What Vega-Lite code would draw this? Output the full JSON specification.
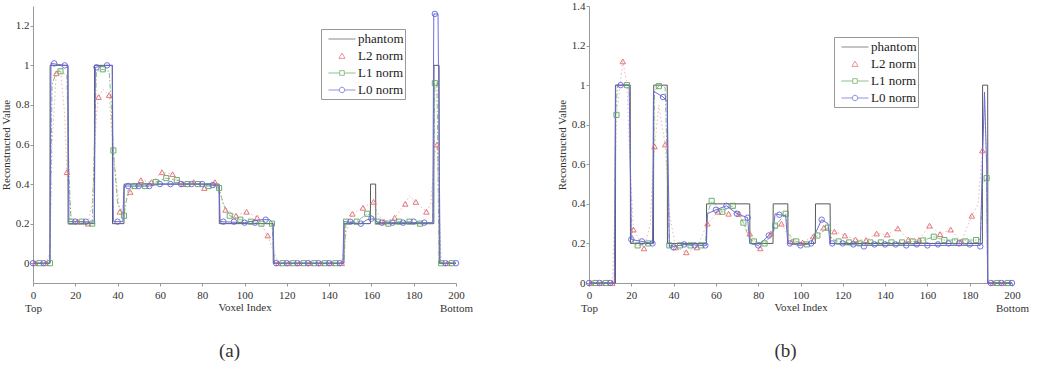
{
  "$schema": "https://vega.github.io/schema/vega-lite/v6.json",
  "padding": {"left": 0, "top": 0, "right": 5, "bottom": 5},
  "background": "white",
  "config": {
    "font": "Liberation Serif",
    "view": {"stroke": null},
    "axis": {
      "labelFont": "Liberation Serif", "titleFont": "Liberation Serif",
      "labelFontSize": 11, "titleFontSize": 11, "titleFontWeight": "normal",
      "labelColor": "#333", "titleColor": "#333",
      "domainColor": "#999", "tickColor": "#999", "grid": false,
      "tickSize": 3, "labelOverlap": false, "labelBound": false, "labelFlush": false
    },
    "legend": {
      "labelFont": "Liberation Serif", "labelFontSize": 13, "labelColor": "#222",
      "strokeColor": "#999", "fillColor": "white", "padding": 1.5,
      "symbolSize": 256, "rowPadding": 1, "labelOffset": 7.5, "symbolOffset": 11, "symbolStrokeWidth": 1
    },
    "title": {"font": "Liberation Serif", "fontSize": 19, "fontWeight": "normal", "color": "#333"}
  },
  "datasets": {
    "lines": [
      {"p":"a","s":"phantom","x":0,"y":0},{"p":"a","s":"phantom","x":8,"y":0},{"p":"a","s":"phantom","x":8.1,"y":1},{"p":"a","s":"phantom","x":16.5,"y":1},{"p":"a","s":"phantom","x":16.6,"y":0.2},{"p":"a","s":"phantom","x":29,"y":0.2},{"p":"a","s":"phantom","x":29.1,"y":1},{"p":"a","s":"phantom","x":37.5,"y":1},{"p":"a","s":"phantom","x":37.6,"y":0.2},{"p":"a","s":"phantom","x":43,"y":0.2},{"p":"a","s":"phantom","x":43.1,"y":0.4},{"p":"a","s":"phantom","x":88,"y":0.4},{"p":"a","s":"phantom","x":88.1,"y":0.2},{"p":"a","s":"phantom","x":113.5,"y":0.2},{"p":"a","s":"phantom","x":113.6,"y":0},{"p":"a","s":"phantom","x":147,"y":0},{"p":"a","s":"phantom","x":147.1,"y":0.2},{"p":"a","s":"phantom","x":159.5,"y":0.2},{"p":"a","s":"phantom","x":159.6,"y":0.4},{"p":"a","s":"phantom","x":162,"y":0.4},{"p":"a","s":"phantom","x":162.1,"y":0.2},{"p":"a","s":"phantom","x":189.5,"y":0.2},{"p":"a","s":"phantom","x":189.6,"y":1},{"p":"a","s":"phantom","x":192,"y":1},{"p":"a","s":"phantom","x":192.1,"y":0},{"p":"a","s":"phantom","x":200,"y":0},

      {"p":"a","s":"L2 norm","x":0,"y":0},{"p":"a","s":"L2 norm","x":1,"y":0},{"p":"a","s":"L2 norm","x":6,"y":0},{"p":"a","s":"L2 norm","x":8,"y":0.05},{"p":"a","s":"L2 norm","x":9,"y":0.6},{"p":"a","s":"L2 norm","x":11,"y":0.96},{"p":"a","s":"L2 norm","x":13,"y":0.98},{"p":"a","s":"L2 norm","x":15,"y":0.75},{"p":"a","s":"L2 norm","x":16,"y":0.46},{"p":"a","s":"L2 norm","x":18,"y":0.24},{"p":"a","s":"L2 norm","x":21,"y":0.21},{"p":"a","s":"L2 norm","x":26,"y":0.2},{"p":"a","s":"L2 norm","x":28,"y":0.3},{"p":"a","s":"L2 norm","x":30,"y":0.75},{"p":"a","s":"L2 norm","x":31,"y":0.84},{"p":"a","s":"L2 norm","x":33,"y":0.88},{"p":"a","s":"L2 norm","x":36,"y":0.85},{"p":"a","s":"L2 norm","x":38,"y":0.55},{"p":"a","s":"L2 norm","x":41,"y":0.26},{"p":"a","s":"L2 norm","x":43,"y":0.3},{"p":"a","s":"L2 norm","x":46,"y":0.36},{"p":"a","s":"L2 norm","x":51,"y":0.42},{"p":"a","s":"L2 norm","x":56,"y":0.41},{"p":"a","s":"L2 norm","x":61,"y":0.46},{"p":"a","s":"L2 norm","x":66,"y":0.45},{"p":"a","s":"L2 norm","x":71,"y":0.4},{"p":"a","s":"L2 norm","x":76,"y":0.41},{"p":"a","s":"L2 norm","x":81,"y":0.38},{"p":"a","s":"L2 norm","x":86,"y":0.41},{"p":"a","s":"L2 norm","x":88,"y":0.35},{"p":"a","s":"L2 norm","x":91,"y":0.27},{"p":"a","s":"L2 norm","x":96,"y":0.24},{"p":"a","s":"L2 norm","x":101,"y":0.26},{"p":"a","s":"L2 norm","x":106,"y":0.23},{"p":"a","s":"L2 norm","x":111,"y":0.14},{"p":"a","s":"L2 norm","x":113,"y":0.08},{"p":"a","s":"L2 norm","x":116,"y":0},{"p":"a","s":"L2 norm","x":146,"y":0},{"p":"a","s":"L2 norm","x":148,"y":0.15},{"p":"a","s":"L2 norm","x":151,"y":0.25},{"p":"a","s":"L2 norm","x":156,"y":0.28},{"p":"a","s":"L2 norm","x":161,"y":0.31},{"p":"a","s":"L2 norm","x":163,"y":0.25},{"p":"a","s":"L2 norm","x":166,"y":0.21},{"p":"a","s":"L2 norm","x":171,"y":0.23},{"p":"a","s":"L2 norm","x":176,"y":0.3},{"p":"a","s":"L2 norm","x":178,"y":0.34},{"p":"a","s":"L2 norm","x":181,"y":0.31},{"p":"a","s":"L2 norm","x":186,"y":0.26},{"p":"a","s":"L2 norm","x":188,"y":0.3},{"p":"a","s":"L2 norm","x":190,"y":0.55},{"p":"a","s":"L2 norm","x":191,"y":0.6},{"p":"a","s":"L2 norm","x":192,"y":0.3},{"p":"a","s":"L2 norm","x":193,"y":0},{"p":"a","s":"L2 norm","x":200,"y":0},

      {"p":"a","s":"L1 norm","x":0,"y":0},{"p":"a","s":"L1 norm","x":8,"y":0},{"p":"a","s":"L1 norm","x":9,"y":0.9},{"p":"a","s":"L1 norm","x":11,"y":0.97},{"p":"a","s":"L1 norm","x":13,"y":0.97},{"p":"a","s":"L1 norm","x":16,"y":0.95},{"p":"a","s":"L1 norm","x":17,"y":0.45},{"p":"a","s":"L1 norm","x":18,"y":0.21},{"p":"a","s":"L1 norm","x":23,"y":0.21},{"p":"a","s":"L1 norm","x":28,"y":0.2},{"p":"a","s":"L1 norm","x":29,"y":0.6},{"p":"a","s":"L1 norm","x":30,"y":0.97},{"p":"a","s":"L1 norm","x":33,"y":0.98},{"p":"a","s":"L1 norm","x":36,"y":0.97},{"p":"a","s":"L1 norm","x":37,"y":0.8},{"p":"a","s":"L1 norm","x":38,"y":0.57},{"p":"a","s":"L1 norm","x":40,"y":0.3},{"p":"a","s":"L1 norm","x":43,"y":0.24},{"p":"a","s":"L1 norm","x":45,"y":0.37},{"p":"a","s":"L1 norm","x":48,"y":0.39},{"p":"a","s":"L1 norm","x":53,"y":0.39},{"p":"a","s":"L1 norm","x":58,"y":0.41},{"p":"a","s":"L1 norm","x":63,"y":0.43},{"p":"a","s":"L1 norm","x":68,"y":0.42},{"p":"a","s":"L1 norm","x":73,"y":0.4},{"p":"a","s":"L1 norm","x":78,"y":0.4},{"p":"a","s":"L1 norm","x":83,"y":0.39},{"p":"a","s":"L1 norm","x":88,"y":0.38},{"p":"a","s":"L1 norm","x":90,"y":0.3},{"p":"a","s":"L1 norm","x":93,"y":0.24},{"p":"a","s":"L1 norm","x":98,"y":0.22},{"p":"a","s":"L1 norm","x":103,"y":0.21},{"p":"a","s":"L1 norm","x":108,"y":0.2},{"p":"a","s":"L1 norm","x":113,"y":0.2},{"p":"a","s":"L1 norm","x":114,"y":0},{"p":"a","s":"L1 norm","x":147,"y":0},{"p":"a","s":"L1 norm","x":148,"y":0.21},{"p":"a","s":"L1 norm","x":153,"y":0.21},{"p":"a","s":"L1 norm","x":158,"y":0.25},{"p":"a","s":"L1 norm","x":160,"y":0.24},{"p":"a","s":"L1 norm","x":163,"y":0.21},{"p":"a","s":"L1 norm","x":168,"y":0.2},{"p":"a","s":"L1 norm","x":173,"y":0.21},{"p":"a","s":"L1 norm","x":178,"y":0.21},{"p":"a","s":"L1 norm","x":183,"y":0.2},{"p":"a","s":"L1 norm","x":189,"y":0.2},{"p":"a","s":"L1 norm","x":190,"y":0.91},{"p":"a","s":"L1 norm","x":191,"y":0.91},{"p":"a","s":"L1 norm","x":192,"y":0},{"p":"a","s":"L1 norm","x":200,"y":0},

      {"p":"a","s":"L0 norm","x":0,"y":0},{"p":"a","s":"L0 norm","x":8,"y":0},{"p":"a","s":"L0 norm","x":8.5,"y":1.01},{"p":"a","s":"L0 norm","x":15,"y":1.0},{"p":"a","s":"L0 norm","x":16.5,"y":1.0},{"p":"a","s":"L0 norm","x":17,"y":0.21},{"p":"a","s":"L0 norm","x":25,"y":0.21},{"p":"a","s":"L0 norm","x":29,"y":0.2},{"p":"a","s":"L0 norm","x":29.5,"y":0.99},{"p":"a","s":"L0 norm","x":35,"y":1.0},{"p":"a","s":"L0 norm","x":37.5,"y":1.0},{"p":"a","s":"L0 norm","x":38,"y":0.21},{"p":"a","s":"L0 norm","x":42.5,"y":0.21},{"p":"a","s":"L0 norm","x":43,"y":0.39},{"p":"a","s":"L0 norm","x":55,"y":0.39},{"p":"a","s":"L0 norm","x":60,"y":0.4},{"p":"a","s":"L0 norm","x":80,"y":0.4},{"p":"a","s":"L0 norm","x":88,"y":0.39},{"p":"a","s":"L0 norm","x":88.5,"y":0.21},{"p":"a","s":"L0 norm","x":100,"y":0.205},{"p":"a","s":"L0 norm","x":108,"y":0.22},{"p":"a","s":"L0 norm","x":112,"y":0.22},{"p":"a","s":"L0 norm","x":113.5,"y":0.2},{"p":"a","s":"L0 norm","x":114,"y":0},{"p":"a","s":"L0 norm","x":146.5,"y":0},{"p":"a","s":"L0 norm","x":147,"y":0.21},{"p":"a","s":"L0 norm","x":155,"y":0.2},{"p":"a","s":"L0 norm","x":158,"y":0.22},{"p":"a","s":"L0 norm","x":161,"y":0.225},{"p":"a","s":"L0 norm","x":163,"y":0.205},{"p":"a","s":"L0 norm","x":189,"y":0.205},{"p":"a","s":"L0 norm","x":189.5,"y":1.26},{"p":"a","s":"L0 norm","x":191.5,"y":1.26},{"p":"a","s":"L0 norm","x":192.5,"y":0},{"p":"a","s":"L0 norm","x":200,"y":0},

      {"p":"b","s":"phantom","x":0,"y":0},{"p":"b","s":"phantom","x":12.5,"y":0},{"p":"b","s":"phantom","x":12.6,"y":1},{"p":"b","s":"phantom","x":19.5,"y":1},{"p":"b","s":"phantom","x":19.6,"y":0.2},{"p":"b","s":"phantom","x":30.5,"y":0.2},{"p":"b","s":"phantom","x":30.6,"y":1},{"p":"b","s":"phantom","x":37,"y":1},{"p":"b","s":"phantom","x":37.1,"y":0.2},{"p":"b","s":"phantom","x":55.5,"y":0.2},{"p":"b","s":"phantom","x":55.6,"y":0.4},{"p":"b","s":"phantom","x":76,"y":0.4},{"p":"b","s":"phantom","x":76.1,"y":0.2},{"p":"b","s":"phantom","x":87,"y":0.2},{"p":"b","s":"phantom","x":87.1,"y":0.4},{"p":"b","s":"phantom","x":94,"y":0.4},{"p":"b","s":"phantom","x":94.1,"y":0.2},{"p":"b","s":"phantom","x":107,"y":0.2},{"p":"b","s":"phantom","x":107.1,"y":0.4},{"p":"b","s":"phantom","x":114,"y":0.4},{"p":"b","s":"phantom","x":114.1,"y":0.2},{"p":"b","s":"phantom","x":186,"y":0.2},{"p":"b","s":"phantom","x":186.1,"y":1},{"p":"b","s":"phantom","x":188.5,"y":1},{"p":"b","s":"phantom","x":188.6,"y":0},{"p":"b","s":"phantom","x":200,"y":0},

      {"p":"b","s":"L2 norm","x":0,"y":0},{"p":"b","s":"L2 norm","x":1,"y":0},{"p":"b","s":"L2 norm","x":6,"y":0},{"p":"b","s":"L2 norm","x":11,"y":0},{"p":"b","s":"L2 norm","x":12,"y":0.3},{"p":"b","s":"L2 norm","x":13,"y":0.85},{"p":"b","s":"L2 norm","x":16,"y":1.12},{"p":"b","s":"L2 norm","x":18,"y":1.0},{"p":"b","s":"L2 norm","x":19,"y":0.7},{"p":"b","s":"L2 norm","x":21,"y":0.27},{"p":"b","s":"L2 norm","x":26,"y":0.175},{"p":"b","s":"L2 norm","x":29,"y":0.3},{"p":"b","s":"L2 norm","x":30,"y":0.55},{"p":"b","s":"L2 norm","x":31,"y":0.69},{"p":"b","s":"L2 norm","x":33,"y":0.9},{"p":"b","s":"L2 norm","x":36,"y":0.7},{"p":"b","s":"L2 norm","x":38,"y":0.35},{"p":"b","s":"L2 norm","x":41,"y":0.18},{"p":"b","s":"L2 norm","x":46,"y":0.155},{"p":"b","s":"L2 norm","x":51,"y":0.18},{"p":"b","s":"L2 norm","x":56,"y":0.3},{"p":"b","s":"L2 norm","x":61,"y":0.36},{"p":"b","s":"L2 norm","x":66,"y":0.35},{"p":"b","s":"L2 norm","x":71,"y":0.35},{"p":"b","s":"L2 norm","x":76,"y":0.25},{"p":"b","s":"L2 norm","x":81,"y":0.175},{"p":"b","s":"L2 norm","x":86,"y":0.25},{"p":"b","s":"L2 norm","x":91,"y":0.3},{"p":"b","s":"L2 norm","x":96,"y":0.21},{"p":"b","s":"L2 norm","x":101,"y":0.205},{"p":"b","s":"L2 norm","x":106,"y":0.235},{"p":"b","s":"L2 norm","x":111,"y":0.28},{"p":"b","s":"L2 norm","x":116,"y":0.26},{"p":"b","s":"L2 norm","x":121,"y":0.24},{"p":"b","s":"L2 norm","x":126,"y":0.22},{"p":"b","s":"L2 norm","x":131,"y":0.217},{"p":"b","s":"L2 norm","x":136,"y":0.25},{"p":"b","s":"L2 norm","x":141,"y":0.245},{"p":"b","s":"L2 norm","x":146,"y":0.276},{"p":"b","s":"L2 norm","x":151,"y":0.22},{"p":"b","s":"L2 norm","x":156,"y":0.217},{"p":"b","s":"L2 norm","x":161,"y":0.29},{"p":"b","s":"L2 norm","x":166,"y":0.247},{"p":"b","s":"L2 norm","x":171,"y":0.27},{"p":"b","s":"L2 norm","x":176,"y":0.21},{"p":"b","s":"L2 norm","x":181,"y":0.34},{"p":"b","s":"L2 norm","x":184,"y":0.4},{"p":"b","s":"L2 norm","x":186,"y":0.67},{"p":"b","s":"L2 norm","x":187,"y":0.9},{"p":"b","s":"L2 norm","x":188,"y":0.6},{"p":"b","s":"L2 norm","x":188.5,"y":0},{"p":"b","s":"L2 norm","x":200,"y":0},

      {"p":"b","s":"L1 norm","x":0,"y":0},{"p":"b","s":"L1 norm","x":12,"y":0},{"p":"b","s":"L1 norm","x":12.5,"y":0.85},{"p":"b","s":"L1 norm","x":13.5,"y":1.0},{"p":"b","s":"L1 norm","x":19,"y":1.0},{"p":"b","s":"L1 norm","x":20,"y":0.3},{"p":"b","s":"L1 norm","x":21,"y":0.2},{"p":"b","s":"L1 norm","x":23,"y":0.19},{"p":"b","s":"L1 norm","x":30,"y":0.2},{"p":"b","s":"L1 norm","x":31,"y":0.97},{"p":"b","s":"L1 norm","x":33,"y":0.995},{"p":"b","s":"L1 norm","x":36,"y":0.99},{"p":"b","s":"L1 norm","x":37,"y":0.6},{"p":"b","s":"L1 norm","x":38,"y":0.19},{"p":"b","s":"L1 norm","x":55,"y":0.19},{"p":"b","s":"L1 norm","x":56,"y":0.35},{"p":"b","s":"L1 norm","x":58,"y":0.415},{"p":"b","s":"L1 norm","x":63,"y":0.36},{"p":"b","s":"L1 norm","x":68,"y":0.39},{"p":"b","s":"L1 norm","x":73,"y":0.305},{"p":"b","s":"L1 norm","x":76,"y":0.22},{"p":"b","s":"L1 norm","x":78,"y":0.21},{"p":"b","s":"L1 norm","x":83,"y":0.2},{"p":"b","s":"L1 norm","x":87,"y":0.25},{"p":"b","s":"L1 norm","x":88,"y":0.29},{"p":"b","s":"L1 norm","x":93,"y":0.35},{"p":"b","s":"L1 norm","x":94,"y":0.25},{"p":"b","s":"L1 norm","x":98,"y":0.21},{"p":"b","s":"L1 norm","x":103,"y":0.195},{"p":"b","s":"L1 norm","x":108,"y":0.24},{"p":"b","s":"L1 norm","x":113,"y":0.28},{"p":"b","s":"L1 norm","x":115,"y":0.22},{"p":"b","s":"L1 norm","x":118,"y":0.21},{"p":"b","s":"L1 norm","x":123,"y":0.205},{"p":"b","s":"L1 norm","x":150,"y":0.205},{"p":"b","s":"L1 norm","x":158,"y":0.215},{"p":"b","s":"L1 norm","x":163,"y":0.234},{"p":"b","s":"L1 norm","x":168,"y":0.217},{"p":"b","s":"L1 norm","x":183,"y":0.217},{"p":"b","s":"L1 norm","x":185,"y":0.22},{"p":"b","s":"L1 norm","x":186,"y":0.5},{"p":"b","s":"L1 norm","x":188,"y":0.53},{"p":"b","s":"L1 norm","x":188.5,"y":0},{"p":"b","s":"L1 norm","x":200,"y":0},

      {"p":"b","s":"L0 norm","x":0,"y":0},{"p":"b","s":"L0 norm","x":12,"y":0},{"p":"b","s":"L0 norm","x":12.5,"y":1.0},{"p":"b","s":"L0 norm","x":19,"y":1.0},{"p":"b","s":"L0 norm","x":20,"y":0.22},{"p":"b","s":"L0 norm","x":25,"y":0.21},{"p":"b","s":"L0 norm","x":30,"y":0.2},{"p":"b","s":"L0 norm","x":30.5,"y":0.97},{"p":"b","s":"L0 norm","x":35,"y":0.94},{"p":"b","s":"L0 norm","x":37,"y":0.92},{"p":"b","s":"L0 norm","x":38,"y":0.18},{"p":"b","s":"L0 norm","x":45,"y":0.195},{"p":"b","s":"L0 norm","x":55.5,"y":0.19},{"p":"b","s":"L0 norm","x":56,"y":0.35},{"p":"b","s":"L0 norm","x":60,"y":0.37},{"p":"b","s":"L0 norm","x":65,"y":0.39},{"p":"b","s":"L0 norm","x":70,"y":0.35},{"p":"b","s":"L0 norm","x":75,"y":0.33},{"p":"b","s":"L0 norm","x":76,"y":0.2},{"p":"b","s":"L0 norm","x":80,"y":0.19},{"p":"b","s":"L0 norm","x":85,"y":0.24},{"p":"b","s":"L0 norm","x":87,"y":0.26},{"p":"b","s":"L0 norm","x":88,"y":0.35},{"p":"b","s":"L0 norm","x":90,"y":0.345},{"p":"b","s":"L0 norm","x":93,"y":0.34},{"p":"b","s":"L0 norm","x":94,"y":0.2},{"p":"b","s":"L0 norm","x":100,"y":0.19},{"p":"b","s":"L0 norm","x":105,"y":0.2},{"p":"b","s":"L0 norm","x":107,"y":0.25},{"p":"b","s":"L0 norm","x":110,"y":0.32},{"p":"b","s":"L0 norm","x":113,"y":0.3},{"p":"b","s":"L0 norm","x":114,"y":0.2},{"p":"b","s":"L0 norm","x":130,"y":0.19},{"p":"b","s":"L0 norm","x":150,"y":0.19},{"p":"b","s":"L0 norm","x":185,"y":0.19},{"p":"b","s":"L0 norm","x":186,"y":0.6},{"p":"b","s":"L0 norm","x":187,"y":0.965},{"p":"b","s":"L0 norm","x":188,"y":0.6},{"p":"b","s":"L0 norm","x":188.5,"y":0},{"p":"b","s":"L0 norm","x":200,"y":0}
    ],
    "marks": [
      {"p":"a","s":"L2 norm","x":1,"y":0},{"p":"a","s":"L2 norm","x":6,"y":0},{"p":"a","s":"L2 norm","x":11,"y":0.96},{"p":"a","s":"L2 norm","x":16,"y":0.46},{"p":"a","s":"L2 norm","x":21,"y":0.21},{"p":"a","s":"L2 norm","x":26,"y":0.2},{"p":"a","s":"L2 norm","x":31,"y":0.84},{"p":"a","s":"L2 norm","x":36,"y":0.85},{"p":"a","s":"L2 norm","x":41,"y":0.26},{"p":"a","s":"L2 norm","x":46,"y":0.36},{"p":"a","s":"L2 norm","x":51,"y":0.42},{"p":"a","s":"L2 norm","x":56,"y":0.41},{"p":"a","s":"L2 norm","x":61,"y":0.46},{"p":"a","s":"L2 norm","x":66,"y":0.45},{"p":"a","s":"L2 norm","x":71,"y":0.4},{"p":"a","s":"L2 norm","x":76,"y":0.41},{"p":"a","s":"L2 norm","x":81,"y":0.38},{"p":"a","s":"L2 norm","x":86,"y":0.41},{"p":"a","s":"L2 norm","x":91,"y":0.27},{"p":"a","s":"L2 norm","x":96,"y":0.24},{"p":"a","s":"L2 norm","x":101,"y":0.26},{"p":"a","s":"L2 norm","x":106,"y":0.23},{"p":"a","s":"L2 norm","x":111,"y":0.14},{"p":"a","s":"L2 norm","x":116,"y":0},{"p":"a","s":"L2 norm","x":121,"y":0},{"p":"a","s":"L2 norm","x":126,"y":0},{"p":"a","s":"L2 norm","x":131,"y":0},{"p":"a","s":"L2 norm","x":136,"y":0},{"p":"a","s":"L2 norm","x":141,"y":0},{"p":"a","s":"L2 norm","x":146,"y":0},{"p":"a","s":"L2 norm","x":151,"y":0.25},{"p":"a","s":"L2 norm","x":156,"y":0.28},{"p":"a","s":"L2 norm","x":161,"y":0.31},{"p":"a","s":"L2 norm","x":166,"y":0.21},{"p":"a","s":"L2 norm","x":171,"y":0.23},{"p":"a","s":"L2 norm","x":176,"y":0.3},{"p":"a","s":"L2 norm","x":181,"y":0.31},{"p":"a","s":"L2 norm","x":186,"y":0.26},{"p":"a","s":"L2 norm","x":191,"y":0.6},{"p":"a","s":"L2 norm","x":196,"y":0},

      {"p":"a","s":"L1 norm","x":3,"y":0},{"p":"a","s":"L1 norm","x":8,"y":0},{"p":"a","s":"L1 norm","x":13,"y":0.97},{"p":"a","s":"L1 norm","x":18,"y":0.21},{"p":"a","s":"L1 norm","x":23,"y":0.21},{"p":"a","s":"L1 norm","x":28,"y":0.2},{"p":"a","s":"L1 norm","x":33,"y":0.98},{"p":"a","s":"L1 norm","x":38,"y":0.57},{"p":"a","s":"L1 norm","x":43,"y":0.24},{"p":"a","s":"L1 norm","x":48,"y":0.39},{"p":"a","s":"L1 norm","x":53,"y":0.39},{"p":"a","s":"L1 norm","x":58,"y":0.41},{"p":"a","s":"L1 norm","x":63,"y":0.43},{"p":"a","s":"L1 norm","x":68,"y":0.42},{"p":"a","s":"L1 norm","x":73,"y":0.4},{"p":"a","s":"L1 norm","x":78,"y":0.4},{"p":"a","s":"L1 norm","x":83,"y":0.39},{"p":"a","s":"L1 norm","x":88,"y":0.38},{"p":"a","s":"L1 norm","x":93,"y":0.24},{"p":"a","s":"L1 norm","x":98,"y":0.22},{"p":"a","s":"L1 norm","x":103,"y":0.21},{"p":"a","s":"L1 norm","x":108,"y":0.2},{"p":"a","s":"L1 norm","x":113,"y":0.2},{"p":"a","s":"L1 norm","x":118,"y":0},{"p":"a","s":"L1 norm","x":123,"y":0},{"p":"a","s":"L1 norm","x":128,"y":0},{"p":"a","s":"L1 norm","x":133,"y":0},{"p":"a","s":"L1 norm","x":138,"y":0},{"p":"a","s":"L1 norm","x":143,"y":0},{"p":"a","s":"L1 norm","x":148,"y":0.21},{"p":"a","s":"L1 norm","x":153,"y":0.21},{"p":"a","s":"L1 norm","x":158,"y":0.25},{"p":"a","s":"L1 norm","x":163,"y":0.21},{"p":"a","s":"L1 norm","x":168,"y":0.2},{"p":"a","s":"L1 norm","x":173,"y":0.21},{"p":"a","s":"L1 norm","x":178,"y":0.21},{"p":"a","s":"L1 norm","x":183,"y":0.2},{"p":"a","s":"L1 norm","x":190,"y":0.91},{"p":"a","s":"L1 norm","x":193,"y":0},{"p":"a","s":"L1 norm","x":198,"y":0},

      {"p":"a","s":"L0 norm","x":0,"y":0},{"p":"a","s":"L0 norm","x":5,"y":0},{"p":"a","s":"L0 norm","x":10,"y":1.01},{"p":"a","s":"L0 norm","x":15,"y":1.0},{"p":"a","s":"L0 norm","x":20,"y":0.21},{"p":"a","s":"L0 norm","x":25,"y":0.21},{"p":"a","s":"L0 norm","x":30,"y":0.99},{"p":"a","s":"L0 norm","x":35,"y":1.0},{"p":"a","s":"L0 norm","x":40,"y":0.21},{"p":"a","s":"L0 norm","x":45,"y":0.39},{"p":"a","s":"L0 norm","x":50,"y":0.39},{"p":"a","s":"L0 norm","x":55,"y":0.39},{"p":"a","s":"L0 norm","x":60,"y":0.4},{"p":"a","s":"L0 norm","x":65,"y":0.4},{"p":"a","s":"L0 norm","x":70,"y":0.4},{"p":"a","s":"L0 norm","x":75,"y":0.4},{"p":"a","s":"L0 norm","x":80,"y":0.4},{"p":"a","s":"L0 norm","x":85,"y":0.395},{"p":"a","s":"L0 norm","x":90,"y":0.21},{"p":"a","s":"L0 norm","x":95,"y":0.21},{"p":"a","s":"L0 norm","x":100,"y":0.205},{"p":"a","s":"L0 norm","x":105,"y":0.205},{"p":"a","s":"L0 norm","x":110,"y":0.22},{"p":"a","s":"L0 norm","x":115,"y":0},{"p":"a","s":"L0 norm","x":120,"y":0},{"p":"a","s":"L0 norm","x":125,"y":0},{"p":"a","s":"L0 norm","x":130,"y":0},{"p":"a","s":"L0 norm","x":135,"y":0},{"p":"a","s":"L0 norm","x":140,"y":0},{"p":"a","s":"L0 norm","x":145,"y":0},{"p":"a","s":"L0 norm","x":150,"y":0.21},{"p":"a","s":"L0 norm","x":155,"y":0.2},{"p":"a","s":"L0 norm","x":160,"y":0.225},{"p":"a","s":"L0 norm","x":165,"y":0.205},{"p":"a","s":"L0 norm","x":170,"y":0.205},{"p":"a","s":"L0 norm","x":175,"y":0.205},{"p":"a","s":"L0 norm","x":180,"y":0.21},{"p":"a","s":"L0 norm","x":185,"y":0.205},{"p":"a","s":"L0 norm","x":190,"y":1.26},{"p":"a","s":"L0 norm","x":195,"y":0},{"p":"a","s":"L0 norm","x":200,"y":0},

      {"p":"b","s":"L2 norm","x":1,"y":0},{"p":"b","s":"L2 norm","x":6,"y":0},{"p":"b","s":"L2 norm","x":11,"y":0},{"p":"b","s":"L2 norm","x":16,"y":1.12},{"p":"b","s":"L2 norm","x":21,"y":0.27},{"p":"b","s":"L2 norm","x":26,"y":0.175},{"p":"b","s":"L2 norm","x":31,"y":0.69},{"p":"b","s":"L2 norm","x":36,"y":0.7},{"p":"b","s":"L2 norm","x":41,"y":0.18},{"p":"b","s":"L2 norm","x":46,"y":0.155},{"p":"b","s":"L2 norm","x":51,"y":0.18},{"p":"b","s":"L2 norm","x":56,"y":0.3},{"p":"b","s":"L2 norm","x":61,"y":0.36},{"p":"b","s":"L2 norm","x":66,"y":0.35},{"p":"b","s":"L2 norm","x":71,"y":0.35},{"p":"b","s":"L2 norm","x":76,"y":0.25},{"p":"b","s":"L2 norm","x":81,"y":0.175},{"p":"b","s":"L2 norm","x":86,"y":0.25},{"p":"b","s":"L2 norm","x":91,"y":0.3},{"p":"b","s":"L2 norm","x":96,"y":0.21},{"p":"b","s":"L2 norm","x":101,"y":0.205},{"p":"b","s":"L2 norm","x":106,"y":0.235},{"p":"b","s":"L2 norm","x":111,"y":0.28},{"p":"b","s":"L2 norm","x":116,"y":0.26},{"p":"b","s":"L2 norm","x":121,"y":0.24},{"p":"b","s":"L2 norm","x":126,"y":0.22},{"p":"b","s":"L2 norm","x":131,"y":0.217},{"p":"b","s":"L2 norm","x":136,"y":0.25},{"p":"b","s":"L2 norm","x":141,"y":0.245},{"p":"b","s":"L2 norm","x":146,"y":0.276},{"p":"b","s":"L2 norm","x":151,"y":0.22},{"p":"b","s":"L2 norm","x":156,"y":0.217},{"p":"b","s":"L2 norm","x":161,"y":0.29},{"p":"b","s":"L2 norm","x":166,"y":0.247},{"p":"b","s":"L2 norm","x":171,"y":0.27},{"p":"b","s":"L2 norm","x":176,"y":0.21},{"p":"b","s":"L2 norm","x":181,"y":0.34},{"p":"b","s":"L2 norm","x":186,"y":0.67},{"p":"b","s":"L2 norm","x":191,"y":0},{"p":"b","s":"L2 norm","x":196,"y":0},

      {"p":"b","s":"L1 norm","x":3,"y":0},{"p":"b","s":"L1 norm","x":8,"y":0},{"p":"b","s":"L1 norm","x":13,"y":0.85},{"p":"b","s":"L1 norm","x":18,"y":1.0},{"p":"b","s":"L1 norm","x":23,"y":0.19},{"p":"b","s":"L1 norm","x":28,"y":0.2},{"p":"b","s":"L1 norm","x":33,"y":0.995},{"p":"b","s":"L1 norm","x":38,"y":0.19},{"p":"b","s":"L1 norm","x":43,"y":0.19},{"p":"b","s":"L1 norm","x":48,"y":0.19},{"p":"b","s":"L1 norm","x":53,"y":0.19},{"p":"b","s":"L1 norm","x":58,"y":0.415},{"p":"b","s":"L1 norm","x":63,"y":0.36},{"p":"b","s":"L1 norm","x":68,"y":0.39},{"p":"b","s":"L1 norm","x":73,"y":0.305},{"p":"b","s":"L1 norm","x":78,"y":0.21},{"p":"b","s":"L1 norm","x":83,"y":0.2},{"p":"b","s":"L1 norm","x":88,"y":0.29},{"p":"b","s":"L1 norm","x":93,"y":0.35},{"p":"b","s":"L1 norm","x":98,"y":0.21},{"p":"b","s":"L1 norm","x":103,"y":0.195},{"p":"b","s":"L1 norm","x":108,"y":0.24},{"p":"b","s":"L1 norm","x":113,"y":0.28},{"p":"b","s":"L1 norm","x":118,"y":0.21},{"p":"b","s":"L1 norm","x":123,"y":0.205},{"p":"b","s":"L1 norm","x":128,"y":0.2},{"p":"b","s":"L1 norm","x":133,"y":0.205},{"p":"b","s":"L1 norm","x":138,"y":0.205},{"p":"b","s":"L1 norm","x":143,"y":0.205},{"p":"b","s":"L1 norm","x":148,"y":0.205},{"p":"b","s":"L1 norm","x":153,"y":0.21},{"p":"b","s":"L1 norm","x":158,"y":0.215},{"p":"b","s":"L1 norm","x":163,"y":0.234},{"p":"b","s":"L1 norm","x":168,"y":0.217},{"p":"b","s":"L1 norm","x":173,"y":0.21},{"p":"b","s":"L1 norm","x":178,"y":0.21},{"p":"b","s":"L1 norm","x":183,"y":0.217},{"p":"b","s":"L1 norm","x":188,"y":0.53},{"p":"b","s":"L1 norm","x":193,"y":0},{"p":"b","s":"L1 norm","x":198,"y":0},

      {"p":"b","s":"L0 norm","x":0,"y":0},{"p":"b","s":"L0 norm","x":5,"y":0},{"p":"b","s":"L0 norm","x":10,"y":0},{"p":"b","s":"L0 norm","x":15,"y":1.0},{"p":"b","s":"L0 norm","x":20,"y":0.22},{"p":"b","s":"L0 norm","x":25,"y":0.21},{"p":"b","s":"L0 norm","x":30,"y":0.2},{"p":"b","s":"L0 norm","x":35,"y":0.94},{"p":"b","s":"L0 norm","x":40,"y":0.18},{"p":"b","s":"L0 norm","x":45,"y":0.195},{"p":"b","s":"L0 norm","x":50,"y":0.19},{"p":"b","s":"L0 norm","x":55,"y":0.19},{"p":"b","s":"L0 norm","x":60,"y":0.37},{"p":"b","s":"L0 norm","x":65,"y":0.39},{"p":"b","s":"L0 norm","x":70,"y":0.35},{"p":"b","s":"L0 norm","x":75,"y":0.33},{"p":"b","s":"L0 norm","x":80,"y":0.19},{"p":"b","s":"L0 norm","x":85,"y":0.24},{"p":"b","s":"L0 norm","x":90,"y":0.345},{"p":"b","s":"L0 norm","x":95,"y":0.2},{"p":"b","s":"L0 norm","x":100,"y":0.19},{"p":"b","s":"L0 norm","x":105,"y":0.2},{"p":"b","s":"L0 norm","x":110,"y":0.32},{"p":"b","s":"L0 norm","x":115,"y":0.2},{"p":"b","s":"L0 norm","x":120,"y":0.2},{"p":"b","s":"L0 norm","x":125,"y":0.195},{"p":"b","s":"L0 norm","x":130,"y":0.185},{"p":"b","s":"L0 norm","x":135,"y":0.195},{"p":"b","s":"L0 norm","x":140,"y":0.195},{"p":"b","s":"L0 norm","x":145,"y":0.195},{"p":"b","s":"L0 norm","x":150,"y":0.19},{"p":"b","s":"L0 norm","x":155,"y":0.195},{"p":"b","s":"L0 norm","x":160,"y":0.19},{"p":"b","s":"L0 norm","x":165,"y":0.195},{"p":"b","s":"L0 norm","x":170,"y":0.2},{"p":"b","s":"L0 norm","x":175,"y":0.2},{"p":"b","s":"L0 norm","x":180,"y":0.195},{"p":"b","s":"L0 norm","x":185,"y":0.185},{"p":"b","s":"L0 norm","x":190,"y":0},{"p":"b","s":"L0 norm","x":195,"y":0},{"p":"b","s":"L0 norm","x":200,"y":0}
    ]
  },
  "bounds": "flush",
  "spacing": 133,
  "resolve": {"scale": {"color": "independent", "shape": "independent"}, "legend": {"color": "independent", "shape": "independent"}},
  "hconcat": [
    {
      "width": 423, "height": 277,
      "title": {"text": "(a)", "orient": "bottom", "offset": 28, "dx": -15},
      "encoding": {
        "x": {"field": "x", "type": "quantitative", "scale": {"domain": [0, 200], "nice": false},
          "axis": {"values": [0,20,40,60,80,100,120,140,160,180,200], "title": "Voxel Index", "labelPadding": 3.5, "labelLineHeight": 13,
            "labelExpr": "datum.value == 0 ? ['0','Top'] : datum.value == 200 ? ['200','Bottom'] : datum.label",
            "titleY": 27, "titleBaseline": "alphabetic"}},
        "y": {"field": "y", "type": "quantitative", "scale": {"domain": [-0.1, 1.3], "nice": false},
          "axis": {"values": [0,0.2,0.4,0.6,0.8,1,1.2], "format": "~g", "title": "Reconstructed Value", "labelPadding": 1, "titlePadding": 4}},
        "color": {"field": "s", "type": "nominal",
          "scale": {"domain": ["phantom","L2 norm","L1 norm","L0 norm"], "range": ["#5a5a5a","#e06a72","#5ea65e","#6464dc"]},
          "legend": {"title": null, "orient": "none", "legendX": 288, "legendY": 23}}
      },
      "layer": [
        {
          "data": {"name": "marks"},
          "transform": [{"filter": "false"}],
          "mark": {"type": "point", "filled": false, "strokeWidth": 1},
          "encoding": {
            "shape": {"field": "s", "type": "nominal",
              "scale": {"domain": ["phantom","L2 norm","L1 norm","L0 norm"],
                "range": ["M-1.69,0H1.69", "M0,-0.36L0.38,0.3L-0.38,0.3Z", "M-1.69,0H-0.29M0.29,0H1.69M-0.29,-0.29H0.29V0.29H-0.29Z", "M-1.69,0H-0.34M0.34,0H1.69M0.34,0A0.34,0.34,0,1,1,-0.34,0A0.34,0.34,0,1,1,0.34,0"]},
              "legend": {"title": null, "orient": "none", "legendX": 288, "legendY": 23}}
          }
        },
        {"data": {"name": "lines"}, "transform": [{"filter": "datum.p == 'a' && datum.s == 'phantom'"}], "mark": {"type": "line", "strokeWidth": 1}},
        {"data": {"name": "lines"}, "transform": [{"filter": "datum.p == 'a' && datum.s == 'L2 norm'"}], "mark": {"type": "line", "strokeWidth": 1, "strokeDash": [1.5, 2.5], "opacity": 0.5}},
        {"data": {"name": "lines"}, "transform": [{"filter": "datum.p == 'a' && datum.s == 'L1 norm'"}], "mark": {"type": "line", "strokeWidth": 1, "strokeDash": [5, 2, 1.5, 2], "opacity": 0.75}},
        {"data": {"name": "lines"}, "transform": [{"filter": "datum.p == 'a' && datum.s == 'L0 norm'"}], "mark": {"type": "line", "strokeWidth": 1, "opacity": 0.95}},
        {"data": {"name": "marks"}, "transform": [{"filter": "datum.p == 'a' && datum.s == 'L2 norm'"}], "mark": {"type": "point", "shape": "triangle-up", "filled": false, "size": 30, "strokeWidth": 1, "opacity": 0.9}},
        {"data": {"name": "marks"}, "transform": [{"filter": "datum.p == 'a' && datum.s == 'L1 norm'"}], "mark": {"type": "point", "shape": "square", "filled": false, "size": 26, "strokeWidth": 1, "opacity": 0.9}},
        {"data": {"name": "marks"}, "transform": [{"filter": "datum.p == 'a' && datum.s == 'L0 norm'"}], "mark": {"type": "point", "shape": "circle", "filled": false, "size": 30, "strokeWidth": 1, "opacity": 0.9}}
      ]
    },
    {
      "width": 423, "height": 277,
      "title": {"text": "(b)", "orient": "bottom", "offset": 28, "dx": -15},
      "encoding": {
        "x": {"field": "x", "type": "quantitative", "scale": {"domain": [0, 200], "nice": false},
          "axis": {"values": [0,20,40,60,80,100,120,140,160,180,200], "title": "Voxel Index", "labelPadding": 3.5, "labelLineHeight": 13,
            "labelExpr": "datum.value == 0 ? ['0','Top'] : datum.value == 200 ? ['200','Bottom'] : datum.label",
            "titleY": 27, "titleBaseline": "alphabetic"}},
        "y": {"field": "y", "type": "quantitative", "scale": {"domain": [0, 1.4], "nice": false},
          "axis": {"values": [0,0.2,0.4,0.6,0.8,1,1.2,1.4], "format": "~g", "title": "Reconstructed Value", "labelPadding": 1, "titlePadding": 4}},
        "color": {"field": "s", "type": "nominal",
          "scale": {"domain": ["phantom","L2 norm","L1 norm","L0 norm"], "range": ["#5a5a5a","#e06a72","#5ea65e","#6464dc"]},
          "legend": {"title": null, "orient": "none", "legendX": 245, "legendY": 31}}
      },
      "layer": [
        {
          "data": {"name": "marks"},
          "transform": [{"filter": "false"}],
          "mark": {"type": "point", "filled": false, "strokeWidth": 1},
          "encoding": {
            "shape": {"field": "s", "type": "nominal",
              "scale": {"domain": ["phantom","L2 norm","L1 norm","L0 norm"],
                "range": ["M-1.69,0H1.69", "M0,-0.36L0.38,0.3L-0.38,0.3Z", "M-1.69,0H-0.29M0.29,0H1.69M-0.29,-0.29H0.29V0.29H-0.29Z", "M-1.69,0H-0.34M0.34,0H1.69M0.34,0A0.34,0.34,0,1,1,-0.34,0A0.34,0.34,0,1,1,0.34,0"]},
              "legend": {"title": null, "orient": "none", "legendX": 245, "legendY": 31}}
          }
        },
        {"data": {"name": "lines"}, "transform": [{"filter": "datum.p == 'b' && datum.s == 'phantom'"}], "mark": {"type": "line", "strokeWidth": 1}},
        {"data": {"name": "lines"}, "transform": [{"filter": "datum.p == 'b' && datum.s == 'L2 norm'"}], "mark": {"type": "line", "strokeWidth": 1, "strokeDash": [1.5, 2.5], "opacity": 0.5}},
        {"data": {"name": "lines"}, "transform": [{"filter": "datum.p == 'b' && datum.s == 'L1 norm'"}], "mark": {"type": "line", "strokeWidth": 1, "strokeDash": [5, 2, 1.5, 2], "opacity": 0.75}},
        {"data": {"name": "lines"}, "transform": [{"filter": "datum.p == 'b' && datum.s == 'L0 norm'"}], "mark": {"type": "line", "strokeWidth": 1, "opacity": 0.95}},
        {"data": {"name": "marks"}, "transform": [{"filter": "datum.p == 'b' && datum.s == 'L2 norm'"}], "mark": {"type": "point", "shape": "triangle-up", "filled": false, "size": 30, "strokeWidth": 1, "opacity": 0.9}},
        {"data": {"name": "marks"}, "transform": [{"filter": "datum.p == 'b' && datum.s == 'L1 norm'"}], "mark": {"type": "point", "shape": "square", "filled": false, "size": 26, "strokeWidth": 1, "opacity": 0.9}},
        {"data": {"name": "marks"}, "transform": [{"filter": "datum.p == 'b' && datum.s == 'L0 norm'"}], "mark": {"type": "point", "shape": "circle", "filled": false, "size": 30, "strokeWidth": 1, "opacity": 0.9}}
      ]
    }
  ]
}
